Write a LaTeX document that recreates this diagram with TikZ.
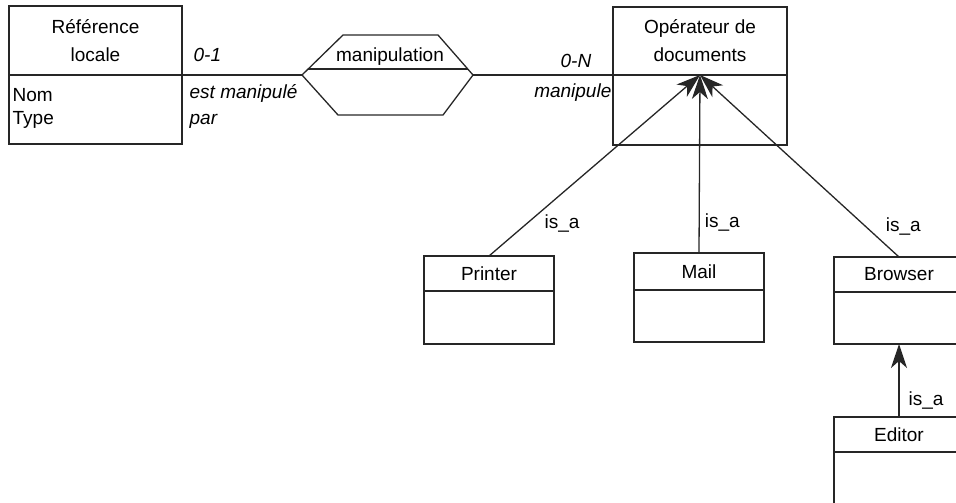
\documentclass[tikz,border=0pt]{standalone}
\usepackage{fontspec}
\setmainfont{Liberation Sans}
\usetikzlibrary{arrows.meta,positioning}
\tikzset{
  classhead/.style={draw, rectangle, inner sep=0pt, outer sep=0pt, align=center},
  classbody/.style={draw, rectangle, inner sep=0pt, outer sep=0pt},
  role/.style={inner sep=0pt, font=\fontsize{19}{22}\selectfont\itshape},
  isa/.style={inner sep=0pt, font=\fontsize{19}{22}\selectfont},
  isarrow/.style={-{Stealth[length=24pt,width=16pt,inset=7pt]}}
}
% name, x, y (top), width, head height, body height, title
\newcommand{\classbox}[7]{
  \node[classhead, anchor=north west, minimum width=#4pt, minimum height=#5pt] (#1) at (#2,#3) {#7};
  \node[classbody, below=0pt of #1, minimum width=#4pt, minimum height=#6pt] (#1b) {};
}

\begin{document}
\begin{tikzpicture}[x=1pt, y=-1pt, line width=1.3pt, draw=black!85,
    font=\fontsize{19}{28}\selectfont]
  \useasboundingbox (0,0) rectangle (956,503);
  \clip (0,0) rectangle (956,503);

  \classbox{ref}{9}{6}{173}{69}{69}{R\'ef\'erence\\locale}
  \classbox{op}{613}{7}{174}{68}{70}{Op\'erateur de\\documents}
  \classbox{printer}{424}{256}{130}{35}{53}{Printer}
  \classbox{mail}{634}{253}{130}{37}{52}{Mail}
  \classbox{browser}{834}{257}{130}{35}{52}{Browser}
  \classbox{editor}{834}{417}{130}{35}{52}{Editor}

  \node[isa, anchor=base west] (nom) at (12,102) {Nom};
  \node[isa, anchor=base west] (type) at (12,124) {Type};

  % association
  \coordinate (hexL) at (302,75);
  \coordinate (hexR) at (473,75);
  \draw (hexL) -- (343,35) -- (438,35) -- (hexR) -- (443,115) -- (338,115) -- cycle;
  \draw (308,69) -- (468,69);
  \node[isa, anchor=base] (manip) at (390,62) {manipulation};
  \draw (ref.south east) -- (hexL);
  \draw (hexR) -- (op.south west);

  \node[role, anchor=base west] (card1) at (193,62) {0-1};
  \node[role, anchor=base west] (role1) at (189,99) {est manipul\'e};
  \node[role, anchor=base west] (role1b) at (189,124) {par};
  \node[role, anchor=base west] (card2) at (560,67) {0-N};
  \node[role, anchor=base east] (role2) at (612,97) {manipule};

  % inheritance
  \draw[isarrow] (printer.north) -- (op.south)
    node[isa, pos=0.18, anchor=west, xshift=17pt] {is\_a};
  \draw[isarrow] (mail.north) -- (op.south)
    node[isa, pos=0.17, anchor=west, xshift=5pt] {is\_a};
  \draw[isarrow] (browser.north) -- (op.south)
    node[isa, pos=0.17, anchor=west, xshift=20pt] {is\_a};
  \draw[isarrow] (editor.north) -- (browserb.south)
    node[isa, pos=0.23, anchor=west, xshift=9pt] {is\_a};
\end{tikzpicture}
\end{document}
